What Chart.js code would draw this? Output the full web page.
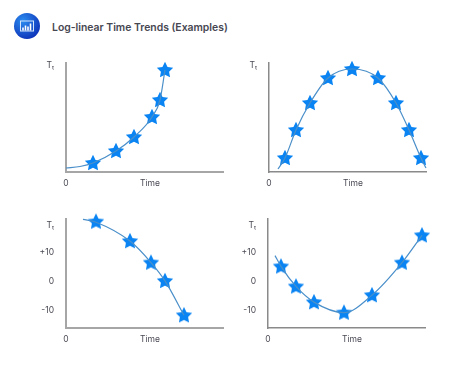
<!DOCTYPE html>
<html lang="en">
<head>
  <meta charset="UTF-8" />
  <title>Log-linear Time Trends (Examples)</title>
  <script src="https://cdn.jsdelivr.net/npm/chart.js"></script>
  <style>
    body { margin: 0; background: #fff; width: 474px; height: 386px; overflow: hidden; position: relative; font-family: Inter, sans-serif; }
    canvas { position: absolute; }
    h1 { position: absolute; left: 52px; top: 20px; margin: 0; font-size: 10.4px; line-height: 15px; font-weight: 600; color: #474752; white-space: nowrap; }
    svg { position: absolute; left: 14px; top: 13px; }
  </style>
</head>
<body>
  <svg width="26" height="26" viewBox="0 0 26 26">
    <defs>
      <radialGradient id="badge" cx="35%" cy="30%" r="80%">
        <stop offset="0" stop-color="#2b8cf0" />
        <stop offset="1" stop-color="#0b2cb4" />
      </radialGradient>
    </defs>
    <circle cx="13" cy="13" r="13" fill="url(#badge)" />
    <rect x="6.5" y="8" width="13" height="10" fill="none" stroke="#d5e6fb" stroke-width="1" />
    <path d="M9 17.5v-3M11.5 17.5v-5M14 17.5v-4M16.5 17.5v-7" stroke="#fff" stroke-width="1.6" />
  </svg>
  <h1>Log-linear Time Trends (Examples)</h1>

  <canvas id="chartA" width="237" height="143" style="left:0;top:50px"></canvas>
  <canvas id="chartB" width="237" height="143" style="left:237px;top:50px"></canvas>
  <canvas id="chartC" width="237" height="143" style="left:0;top:206px"></canvas>
  <canvas id="chartD" width="237" height="143" style="left:237px;top:206px"></canvas>

  <script>
    const xTickValues = [0, 84];
    const xTickLabels = ['0', 'Time'];

    // top row has no numbers on the y axis, only the T label
    const plainTickValues = [107];
    const plainTickLabels = ['Tₜ'];
    const signedTickValues = [19.4, 10, 0, -10];
    const signedTickLabels = ['Tₜ', '+10', '0', '-10'];

    const growthCurveX = [0, 14, 27, 50, 68, 86, 94, 99];
    const growthCurveY = [4, 5.5, 9, 21, 35, 55, 72, 102];
    const growthStarX = [27, 50, 68, 86, 94, 99];
    const growthStarY = [9, 21, 35, 55, 72, 102];

    const archCurveX = [9, 16, 27, 41, 59, 83, 109, 127, 140, 152, 157];
    const archCurveY = [3, 14, 42, 69, 94, 103, 94, 69, 42, 14, 4];
    const archStarX = [16, 27, 41, 59, 83, 109, 127, 140, 152];
    const archStarY = [14, 42, 69, 94, 103, 94, 69, 42, 14];

    const declineCurveX = [17, 30, 64, 85, 99, 118];
    const declineCurveY = [21.4, 20.4, 13.9, 6.5, 0.2, -11.6];
    const declineStarX = [30, 64, 85, 99, 118];
    const declineStarY = [20.6, 13.9, 6.5, 0.2, -11.6];

    const troughCurveX = [7, 13, 28, 46, 76, 104, 134, 154];
    const troughCurveY = [8.9, 5.2, -1.7, -7.1, -10.7, -4.7, 6.5, 15.9];
    const troughStarX = [13, 28, 46, 76, 104, 134, 154];
    const troughStarY = [5.2, -1.7, -7.1, -10.7, -4.7, 6.5, 15.9];

    const starImage = document.createElement('canvas');
    starImage.width = 18;
    starImage.height = 18;
    const starCtx = starImage.getContext('2d');
    starCtx.fillStyle = '#0a84f2';
    starCtx.beginPath();
    for (let i = 0; i < 10; i++) {
      const r = i % 2 ? 4.3 : 8.6;
      const a = -Math.PI / 2 + i * Math.PI / 5;
      starCtx.lineTo(9 + r * Math.cos(a), 9.4 + r * Math.sin(a));
    }
    starCtx.closePath();
    starCtx.fill();

    const toPoints = (xs, ys) => xs.map((x, i) => ({ x, y: ys[i] }));

    function drawPanel(id, cfg) {
      new Chart(document.getElementById(id), {
        type: 'scatter',
        data: {
          datasets: [
            {
              data: toPoints(cfg.curveX, cfg.curveY),
              showLine: true,
              borderColor: '#4a8fc9',
              borderWidth: 1.2,
              cubicInterpolationMode: 'monotone',
              pointRadius: 0,
              clip: false
            },
            {
              data: toPoints(cfg.starX, cfg.starY),
              pointStyle: starImage,
              clip: false
            }
          ]
        },
        options: {
          responsive: false,
          animation: false,
          layout: { padding: { top: cfg.top, right: 237 - cfg.left - 157 } },
          plugins: { legend: { display: false }, tooltip: { enabled: false } },
          scales: {
            x: {
              min: 0,
              max: 157,
              grid: { display: false, drawTicks: false },
              border: { color: cfg.axisColor, width: cfg.axisWidth },
              afterBuildTicks: s => { s.ticks = xTickValues.map(value => ({ value })); },
              afterFit: s => { s.height = 21; s.paddingLeft = 0; s.paddingRight = 0; },
              ticks: {
                autoSkip: false,
                maxRotation: 0,
                padding: 6,
                color: '#4a4a55',
                font: { family: 'Inter', size: 8.5 },
                callback: (v, i) => xTickLabels[i]
              }
            },
            y: {
              min: cfg.yMin,
              max: cfg.yMax,
              grid: { display: false, drawTicks: false },
              border: { color: cfg.axisColor, width: cfg.axisWidth },
              afterBuildTicks: s => { s.ticks = cfg.tickValues.map(value => ({ value })); },
              afterFit: s => { s.width = cfg.left; s.paddingTop = 0; s.paddingBottom = 0; },
              ticks: {
                autoSkip: false,
                padding: 12,
                color: '#4a4a55',
                font: { family: 'Inter', size: 8.5 },
                callback: (v, i) => cfg.tickLabels[i]
              }
            }
          }
        }
      });
    }

    drawPanel('chartA', {
      curveX: growthCurveX, curveY: growthCurveY, starX: growthStarX, starY: growthStarY,
      tickValues: plainTickValues, tickLabels: plainTickLabels,
      yMin: 0, yMax: 109, left: 66, top: 13, axisColor: '#a6a6a6', axisWidth: 2
    });
    drawPanel('chartB', {
      curveX: archCurveX, curveY: archCurveY, starX: archStarX, starY: archStarY,
      tickValues: plainTickValues, tickLabels: plainTickLabels,
      yMin: 0, yMax: 109, left: 32, top: 13, axisColor: '#8a8a8a', axisWidth: 1.5
    });
    drawPanel('chartC', {
      curveX: declineCurveX, curveY: declineCurveY, starX: declineStarX, starY: declineStarY,
      tickValues: signedTickValues, tickLabels: signedTickLabels,
      yMin: -16, yMax: 21.5, left: 66, top: 13, axisColor: '#a6a6a6', axisWidth: 2
    });
    drawPanel('chartD', {
      curveX: troughCurveX, curveY: troughCurveY, starX: troughStarX, starY: troughStarY,
      tickValues: signedTickValues, tickLabels: signedTickLabels,
      yMin: -16, yMax: 21.5, left: 31, top: 13, axisColor: '#8a8a8a', axisWidth: 1.5
    });
  </script>
</body>
</html>
